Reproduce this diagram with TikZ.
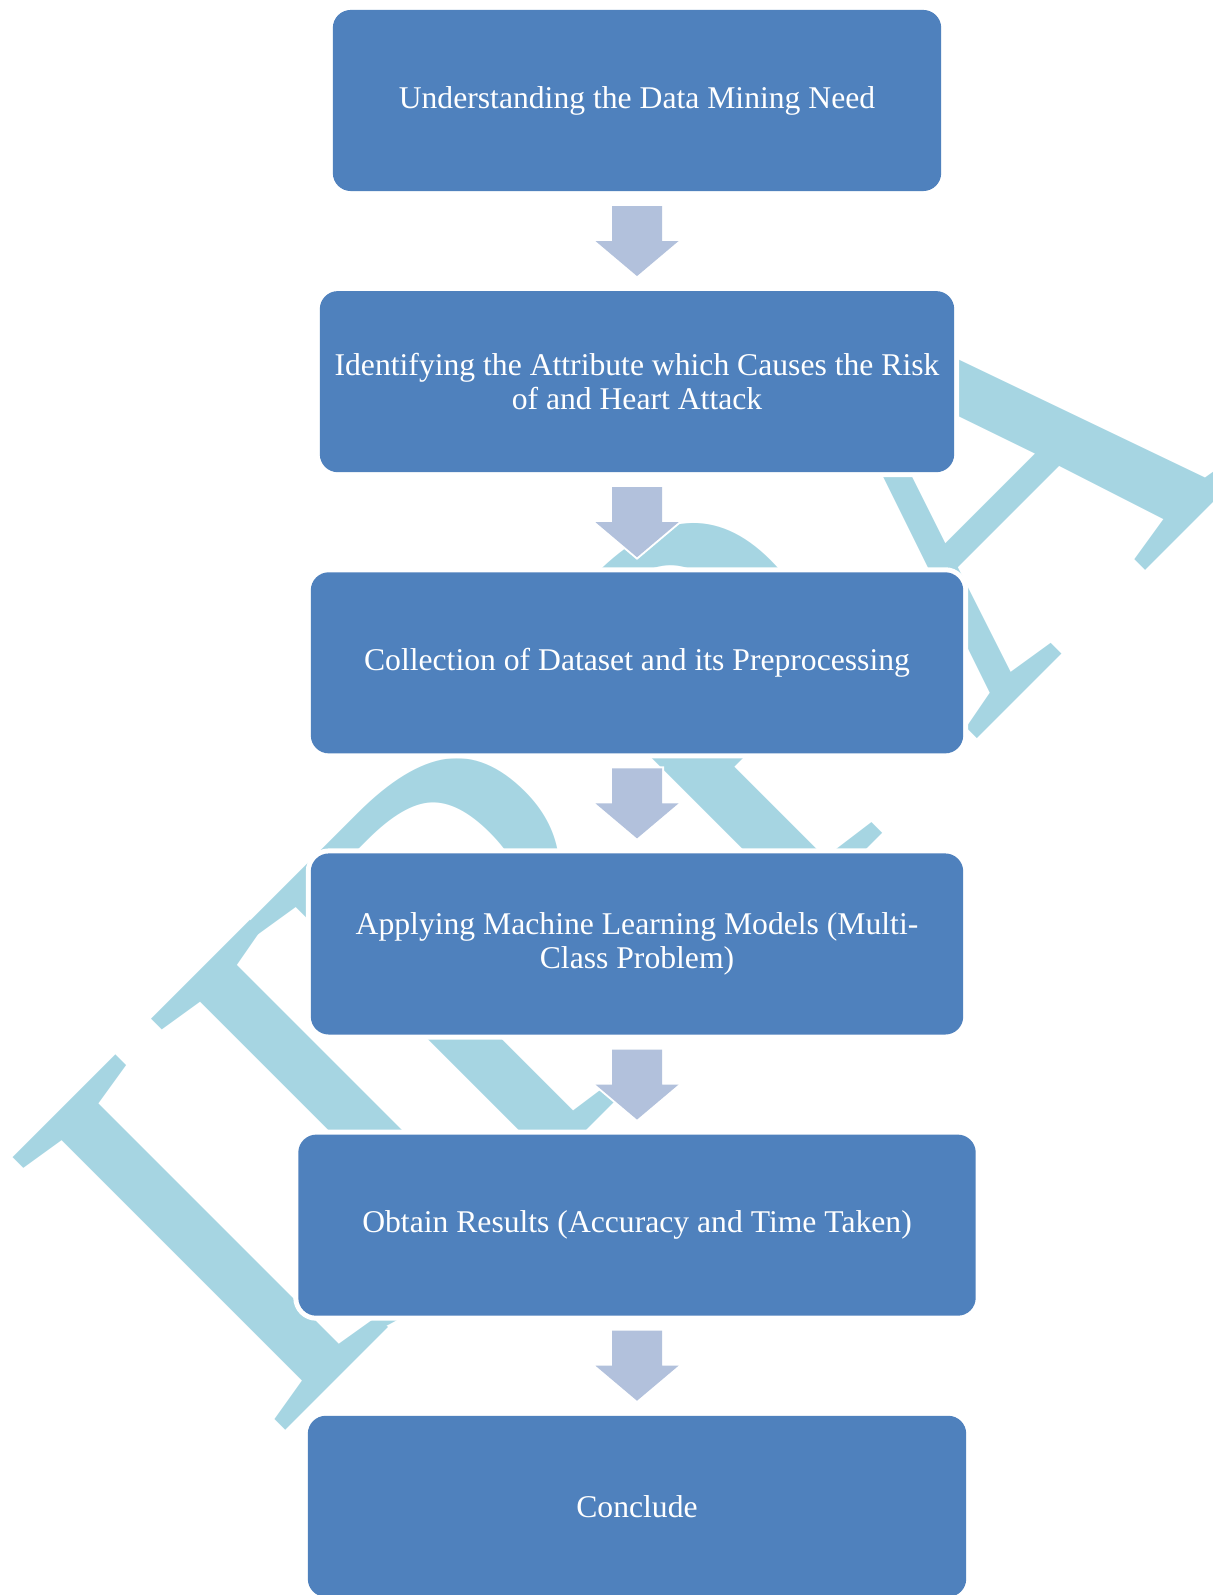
\documentclass[tikz,border=0pt]{standalone}
\usepackage{fontspec}
\setmainfont{Liberation Serif}
\usetikzlibrary{positioning,calc}

\definecolor{stepblue}{RGB}{79,129,189}
\definecolor{arrowgray}{RGB}{178,193,220}
\definecolor{markblue}{RGB}{166,213,226}

\begin{document}
\begin{tikzpicture}[x=0.01cm, y=-0.01cm, node distance=1cm]
\tikzstyle{every node}=[font=\fontsize{9}{9.6}\selectfont] %%
\tikzstyle{stepbox}=[fill=stepblue, text=white, align=center, rounded corners=0.18cm,
   minimum height=1.81cm, inner sep=0pt, outer sep=0pt,
   preaction={draw=white, line width=0.1cm}]
\tikzstyle{flowarrow}=[fill=arrowgray, preaction={draw=white, line width=0.04cm}]
\useasboundingbox (0,0) rectangle (1212,1595);

%% lettering behind the chart
\node[text=markblue, font=\fontsize{158}{160}\selectfont, inner sep=0pt,
      anchor=base west, rotate=45, yscale=1.06] (mark) at (271,1445)
   {I\kern-9.7pt J\kern-9.4pt R\kern-3.7pt P\kern-2.3pt A};

\node[stepbox, minimum width=6.08cm] (need) at (637,100.5) {Understanding the Data Mining Need};
\node[stepbox, minimum width=6.34cm, below=of need] (attr)
   {Identifying the Attribute which Causes the Risk\\of and Heart Attack};
\node[stepbox, minimum width=6.52cm, below=of attr] (data)
   {Collection of Dataset and its Preprocessing};
\node[stepbox, minimum width=6.52cm, below=of data] (models)
   {Applying Machine Learning Models (Multi-\\Class Problem)};
\node[stepbox, minimum width=6.77cm, below=of models] (results)
   {Obtain Results (Accuracy and Time Taken)};
\node[stepbox, minimum width=6.58cm, below=of results] (conclude) {Conclude};

%% block arrows between the steps
\foreach \a/\b in {need/attr, attr/data, data/models, models/results, results/conclude} {
   \path (\a.south) -- (\b.north) coordinate[midway] (mid);
   \fill[flowarrow] ($(mid)+(-25,-35)$) -- ($(mid)+(25,-35)$) -- ($(mid)+(25,0)$)
      -- ($(mid)+(41.5,0)$) -- ($(mid)+(0,35)$) -- ($(mid)+(-41.5,0)$)
      -- ($(mid)+(-25,0)$) -- cycle;
}
\end{tikzpicture}
\end{document}
